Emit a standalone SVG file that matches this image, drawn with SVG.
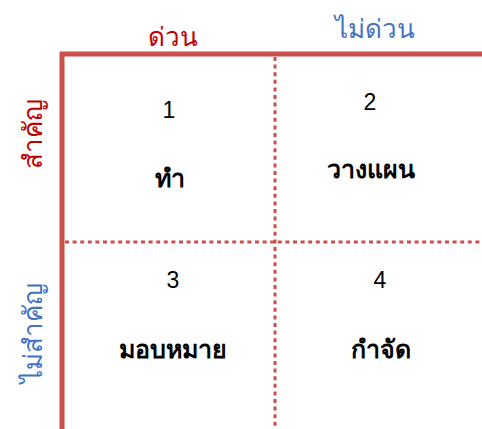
<svg xmlns="http://www.w3.org/2000/svg" width="482" height="429" viewBox="0 0 482 429">
<style>
.lbl{font-family:"Liberation Sans","Noto Sans",sans-serif;font-size:26px;text-anchor:middle;fill:#000}
.q{font-size:25px;font-weight:bold}
.num{font-family:"Liberation Sans",sans-serif;font-size:23px;text-anchor:middle;fill:#000}
.red{fill:#C00000}
.blue{fill:#4472C4}
.axis{stroke:#C9504B;stroke-width:5;fill:none}
.dot{stroke:#C9504B;stroke-width:3;stroke-dasharray:4 3.6;fill:none}
</style>
<rect width="482" height="429" fill="#fff"/>
<g id="connectors">
<line class="axis" x1="60" y1="54" x2="482" y2="54"/>
<line class="axis" x1="62" y1="52" x2="62" y2="429"/>
<line class="dot" x1="275" y1="57" x2="275" y2="429"/>
<line class="dot" x1="65" y1="242" x2="482" y2="242"/>
</g>
<g id="header-urgent"><text class="lbl red" x="173" y="46">ด่วน</text></g>
<g id="header-not-urgent"><text class="lbl blue" x="375" y="38">ไม่ด่วน</text></g>
<g id="side-important"><text class="lbl red" transform="translate(42,134) rotate(-90)" x="0" y="0">สำคัญ</text></g>
<g id="side-not-important"><text class="lbl blue" transform="translate(42,333) rotate(-90)" x="0" y="0">ไม่สำคัญ</text></g>
<g id="q1"><text class="num" x="169" y="118">1</text><text class="lbl q" x="170" y="187">ทำ</text></g>
<g id="q2"><text class="num" x="370" y="110">2</text><text class="lbl q" x="371" y="178">วางแผน</text></g>
<g id="q3"><text class="num" x="173" y="288">3</text><text class="lbl q" x="173" y="358">มอบหมาย</text></g>
<g id="q4"><text class="num" x="380" y="288">4</text><text class="lbl q" x="381" y="358">กำจัด</text></g>
</svg>
